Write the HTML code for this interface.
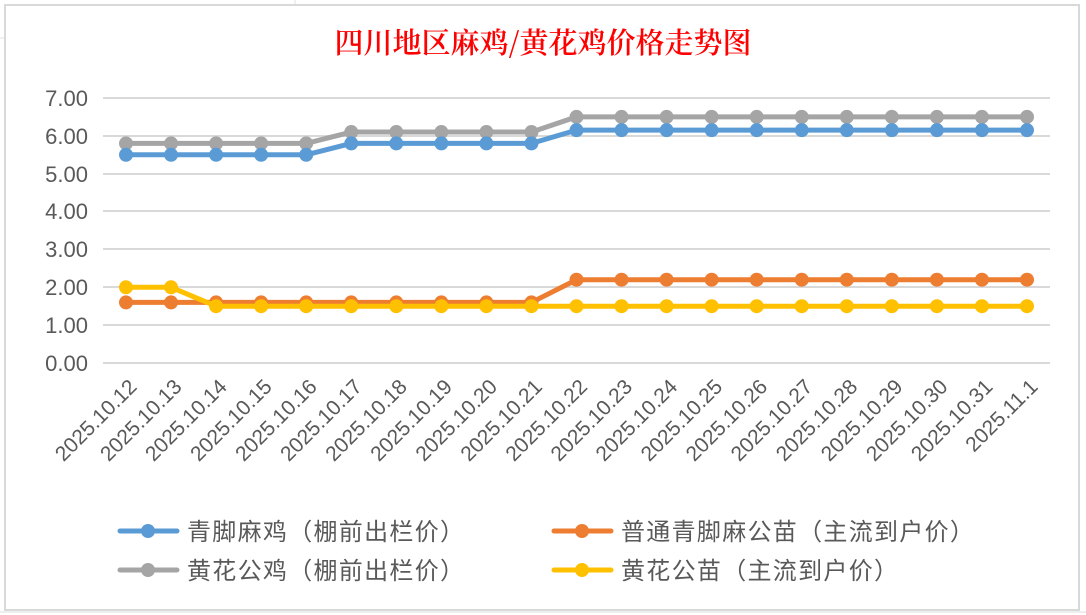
<!DOCTYPE html>
<html><head><meta charset="utf-8"><style>
html,body{margin:0;padding:0;background:#fff;}
svg{display:block;}
</style></head><body>
<svg width="1086" height="615" xmlns="http://www.w3.org/2000/svg" font-family="Liberation Sans, 'Noto Sans CJK SC', sans-serif">
<rect x="0" y="0" width="1086" height="615" fill="#fff"/>
<line x1="0" y1="38" x2="5" y2="38" stroke="#e0e0e0"/>
<line x1="295" y1="0" x2="295" y2="5" stroke="#e0e0e0"/>
<line x1="0" y1="612" x2="1086" y2="612" stroke="#ddd"/>
<rect x="5" y="5" width="1074" height="605" fill="#fff" stroke="#d9d9d9" stroke-width="2"/>
<text x="543" y="53" text-anchor="middle" fill="#ff0000" font-size="29" font-family="'Noto Serif CJK SC', serif" font-weight="600">四川地区麻鸡/黄花鸡价格走势图</text>
<g stroke="#d9d9d9" stroke-width="2">
<line x1="103" x2="1050" y1="98" y2="98"/>
<line x1="103" x2="1050" y1="136" y2="136"/>
<line x1="103" x2="1050" y1="174" y2="174"/>
<line x1="103" x2="1050" y1="211" y2="211"/>
<line x1="103" x2="1050" y1="249" y2="249"/>
<line x1="103" x2="1050" y1="287" y2="287"/>
<line x1="103" x2="1050" y1="325" y2="325"/>
<line x1="103" x2="1050" y1="363" y2="363"/>
</g>
<g fill="#595959" font-size="22" text-anchor="end">
<text x="88" y="106">7.00</text><text x="88" y="144">6.00</text><text x="88" y="182">5.00</text><text x="88" y="219">4.00</text><text x="88" y="257">3.00</text><text x="88" y="295">2.00</text><text x="88" y="333">1.00</text><text x="88" y="371">0.00</text>
</g>
<g id="xl" fill="#595959" font-size="21" text-anchor="end"></g>
<g id="series"></g>
<g font-size="24" fill="#595959" letter-spacing="1.3">
<line x1="120" x2="177" y1="531" y2="531" stroke="#5b9bd5" stroke-width="5" stroke-linecap="round"/><circle cx="148" cy="531" r="7" fill="#5b9bd5"/>
<text x="187" y="540">青脚麻鸡（棚前出栏价）</text>
<line x1="120" x2="177" y1="570" y2="570" stroke="#a5a5a5" stroke-width="5" stroke-linecap="round"/><circle cx="148" cy="570" r="7" fill="#a5a5a5"/>
<text x="187" y="579">黄花公鸡（棚前出栏价）</text>
<line x1="554" x2="611" y1="531" y2="531" stroke="#ed7d31" stroke-width="5" stroke-linecap="round"/><circle cx="582" cy="531" r="7" fill="#ed7d31"/>
<text x="621" y="540">普通青脚麻公苗（主流到户价）</text>
<line x1="554" x2="611" y1="570" y2="570" stroke="#ffc000" stroke-width="5" stroke-linecap="round"/><circle cx="582" cy="570" r="7" fill="#ffc000"/>
<text x="621" y="579">黄花公苗（主流到户价）</text>
</g>
</svg>
<script>
var ns="http://www.w3.org/2000/svg";
var labels=["2025.10.12","2025.10.13","2025.10.14","2025.10.15","2025.10.16","2025.10.17","2025.10.18","2025.10.19","2025.10.20","2025.10.21","2025.10.22","2025.10.23","2025.10.24","2025.10.25","2025.10.26","2025.10.27","2025.10.28","2025.10.29","2025.10.30","2025.10.31","2025.11.1"];
function X(i){return 126+i*45.05;}
function Y(v){return 363-v*37.86;}
var xl=document.getElementById("xl");
labels.forEach(function(l,i){var t=document.createElementNS(ns,"text");var x=X(i)+12,y=388;t.setAttribute("x",x);t.setAttribute("y",y);t.setAttribute("transform","rotate(-45 "+x+" "+y+")");t.textContent=l;xl.appendChild(t);});
function arr(parts){var a=[];parts.forEach(function(p){for(var k=0;k<p[1];k++)a.push(p[0]);});return a;}
var S=[
["#a5a5a5",arr([[5.8,5],[6.1,5],[6.5,11]])],
["#5b9bd5",arr([[5.5,5],[5.8,5],[6.15,11]])],
["#ed7d31",arr([[1.6,10],[2.2,11]])],
["#ffc000",arr([[2.0,2],[1.5,19]])]
];
var g=document.getElementById("series");
S.forEach(function(s){var pts=s[1].map(function(v,i){return X(i)+","+Y(v);}).join(" ");
var pl=document.createElementNS(ns,"polyline");pl.setAttribute("points",pts);pl.setAttribute("fill","none");pl.setAttribute("stroke",s[0]);pl.setAttribute("stroke-width","5");pl.setAttribute("stroke-linejoin","round");g.appendChild(pl);
s[1].forEach(function(v,i){var c=document.createElementNS(ns,"circle");c.setAttribute("cx",X(i));c.setAttribute("cy",Y(v));c.setAttribute("r","7");c.setAttribute("fill",s[0]);g.appendChild(c);});});
</script>
</body></html>
